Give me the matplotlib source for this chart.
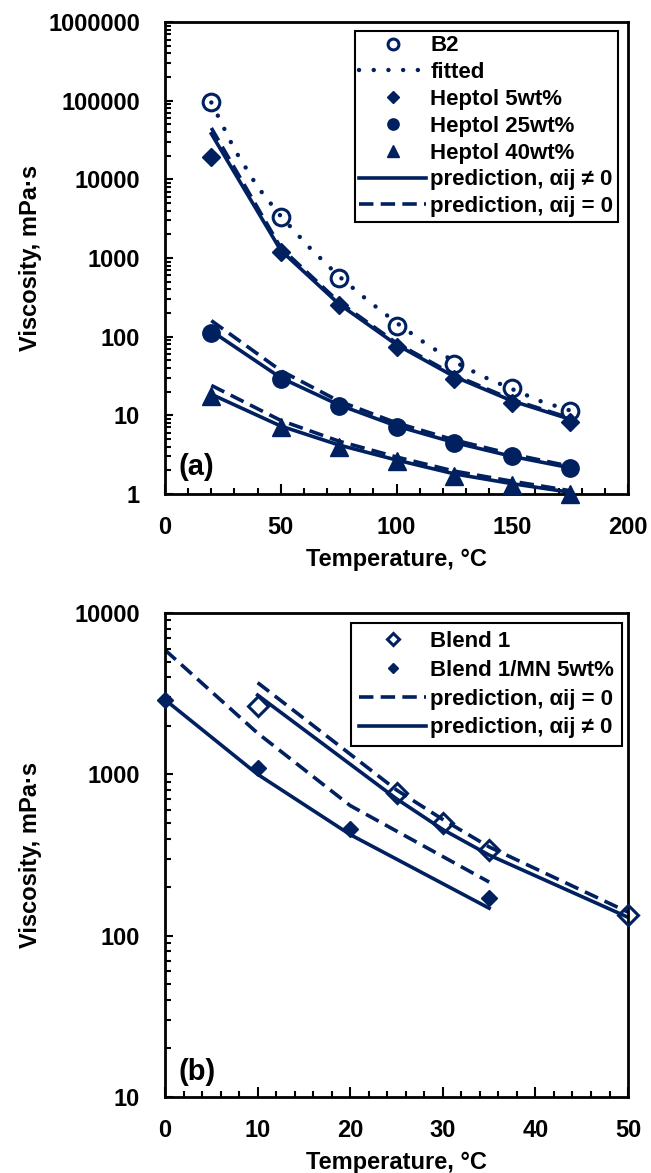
import matplotlib
matplotlib.use('Agg')
import matplotlib.pyplot as plt
from matplotlib.ticker import LogLocator, NullFormatter, FuncFormatter, MultipleLocator

# (a) Heptol mixtures
temp_a = [20, 50, 75, 100, 125, 150, 175]
b2 = [95000, 3300, 560, 135, 45, 22, 11.3]
fit_x = [20, 30, 40, 50, 62.5, 75, 87.5, 100, 112.5, 125, 137.5, 150, 162.5, 175]
fit_y = [95000, 24000, 8000, 3400, 1350, 590, 290, 150, 82, 48, 31, 21.5, 15, 11.5]
heptol5 = [19500, 1200, 250, 74, 29, 14.5, 8.2]
heptol25 = [112, 29, 13.2, 7.1, 4.4, 3.0, 2.15]
heptol40 = [17.5, 7.0, 3.9, 2.6, 1.7, 1.3, 1.0]
h5_pred = [38000, 1250, 262, 79, 31, 15.2, 8.9]
h5_pred0 = [45000, 1350, 278, 83, 32.5, 15.8, 9.2]
h25_pred = [118, 30, 13.6, 7.3, 4.5, 3.0, 2.15]
h25_pred0 = [160, 37, 15.2, 8.0, 4.85, 3.2, 2.25]
h40_pred = [18.5, 7.3, 4.2, 2.7, 1.8, 1.35, 1.05]
h40_pred0 = [24, 8.6, 4.7, 2.95, 1.95, 1.45, 1.1]

# (b) Blend 1
temp_b1 = [10, 25, 30, 35, 50]
blend1 = [2660, 770, 500, 340, 134]
blend1_pred = [3100, 705, 455, 316, 130]
blend1_pred0 = [3700, 800, 525, 355, 140]
temp_bmn = [0, 10, 20, 35]
blend1_mn = [2900, 1100, 460, 170]
bmn_pred = [2900, 1000, 423, 148]
bmn_pred0 = [5900, 1800, 640, 215]

navy = '#002060'
plt.rcParams['font.family'] = ['Liberation Sans', 'DejaVu Sans']
plt.rcParams['font.weight'] = 'bold'

fig = plt.figure(figsize=(6.51, 11.73), dpi=100)
ax1 = fig.add_axes([0.2535, 0.5789, 0.7112, 0.4023])
ax2 = fig.add_axes([0.2535, 0.0648, 0.7112, 0.4126])

lw = 2.6
dash = (0, (4, 2))
dot = (0, (0.01, 3.3))

# ----- (a) -----
ax1.plot(temp_a, b2, 'o', ms=12, mfc='none', mec=navy, mew=2.2, label='B2', zorder=4, clip_on=False)
ax1.plot(fit_x, fit_y, color=navy, lw=3.2, linestyle=dot, dash_capstyle='round', label='fitted')
ax1.plot(temp_a, heptol5, 'D', ms=9.5, color=navy, label='Heptol 5wt%', zorder=4, clip_on=False)
ax1.plot(temp_a, heptol25, 'o', ms=12.5, color=navy, label='Heptol 25wt%', zorder=4, clip_on=False)
ax1.plot(temp_a, heptol40, '^', ms=12.5, color=navy, label='Heptol 40wt%', zorder=4, clip_on=False)
ax1.plot(temp_a, h5_pred, color=navy, lw=lw, label='prediction, αij ≠ 0')
ax1.plot(temp_a, h5_pred0, color=navy, lw=lw, linestyle=dash, label='prediction, αij = 0')
for ys in [h25_pred, h40_pred]:
    ax1.plot(temp_a, ys, color=navy, lw=lw)
for ys in [h25_pred0, h40_pred0]:
    ax1.plot(temp_a, ys, color=navy, lw=lw, linestyle=dash)

ax1.set_yscale('log')
ax1.set_ylim(1, 1e6)
ax1.set_xlim(0, 200)
ax1.xaxis.set_major_locator(MultipleLocator(50))
ax1.xaxis.set_minor_locator(MultipleLocator(10))
ax1.text(0.03, 0.04, '(a)', transform=ax1.transAxes, fontsize=21, fontweight='bold')
ax1.legend(loc='upper right', bbox_to_anchor=(0.978, 0.981), fontsize=16, frameon=True,
           fancybox=False, edgecolor='black', framealpha=1, handlelength=3.0,
           handletextpad=0.2, borderpad=0.2, labelspacing=0.26, borderaxespad=0,
           markerscale=0.65)

# ----- (b) -----
ax2.plot(temp_b1, blend1, 'D', ms=10, mfc='none', mec=navy, mew=2.2, label='Blend 1', zorder=4, clip_on=False)
ax2.plot(temp_bmn, blend1_mn, 'D', ms=8.5, color=navy, label='Blend 1/MN 5wt%', zorder=4, clip_on=False)
ax2.plot(temp_bmn, bmn_pred0, color=navy, lw=lw, linestyle=dash, label='prediction, αij = 0')
ax2.plot(temp_bmn, bmn_pred, color=navy, lw=lw, label='prediction, αij ≠ 0')
ax2.plot(temp_b1, blend1_pred0, color=navy, lw=lw, linestyle=dash)
ax2.plot(temp_b1, blend1_pred, color=navy, lw=lw)

ax2.set_yscale('log')
ax2.set_ylim(10, 10000)
ax2.set_xlim(0, 50)
ax2.xaxis.set_major_locator(MultipleLocator(10))
ax2.xaxis.set_minor_locator(MultipleLocator(2))
ax2.text(0.03, 0.035, '(b)', transform=ax2.transAxes, fontsize=21, fontweight='bold')
ax2.legend(loc='upper right', bbox_to_anchor=(0.987, 0.979), fontsize=16, frameon=True,
           fancybox=False, edgecolor='black', framealpha=1, handlelength=3.0,
           handletextpad=0.2, borderpad=0.35, labelspacing=0.35, borderaxespad=0,
           markerscale=0.65)

for ax in (ax1, ax2):
    ax.yaxis.set_major_locator(LogLocator(base=10, numticks=20))
    ax.yaxis.set_minor_locator(LogLocator(base=10, subs=range(2, 10), numticks=20))
    ax.yaxis.set_minor_formatter(NullFormatter())
    ax.yaxis.set_major_formatter(FuncFormatter(lambda v, p: '%d' % round(v)))
    ax.tick_params(which='both', direction='in', top=False, right=False,
                   width=1.5, labelsize=17)
    ax.tick_params(axis='y', which='major', length=6, pad=18)
    ax.tick_params(axis='y', which='minor', length=4)
    ax.tick_params(axis='x', which='major', length=7, pad=16)
    ax.tick_params(axis='x', which='minor', length=4)
    for s in ax.spines.values():
        s.set_linewidth(2)
    ax.set_ylabel('Viscosity, mPa·s', fontsize=17, fontweight='bold')
    ax.yaxis.set_label_coords(-0.265, 0.5)
    ax.set_xlabel('Temperature, °C', fontsize=17, fontweight='bold', labelpad=6)
    leg = ax.get_legend()
    leg.get_frame().set_linewidth(1.5)
    for t in leg.get_texts():
        t.set_fontweight('bold')

fig.savefig('out.png', dpi=100)
